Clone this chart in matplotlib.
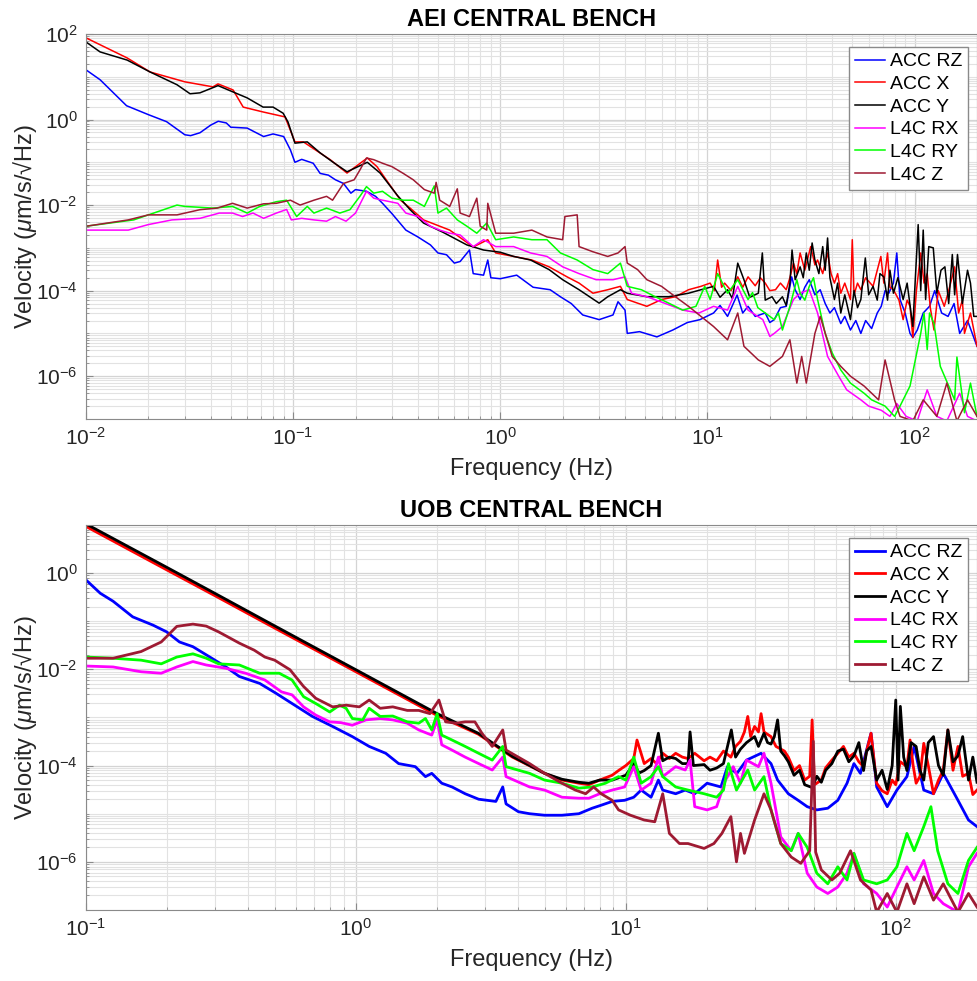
import matplotlib
matplotlib.use("Agg")
import matplotlib.pyplot as plt
from matplotlib.ticker import LogLocator, NullFormatter

plt.rcParams['font.family'] = ['Liberation Sans', 'DejaVu Sans']
plt.rcParams['mathtext.fontset'] = 'custom'
plt.rcParams['mathtext.rm'] = 'Liberation Sans'
plt.rcParams['mathtext.it'] = 'Liberation Sans:italic'

labels = ['ACC RZ', 'ACC X', 'ACC Y', 'L4C RX', 'L4C RY', 'L4C Z']
colors = ['#0000ff', '#ff0000', '#000000', '#ff00ff', '#00ff00', '#9e1a32']

# ---------------- AEI central bench (top) ----------------
aei_rz_f = [0.01, 0.0117, 0.0157, 0.02, 0.0245, 0.03, 0.032, 0.0355, 0.04, 0.0435, 0.0476, 0.05, 0.06,
            0.072, 0.08, 0.09, 0.097, 0.102, 0.11, 0.125, 0.135, 0.148, 0.16, 0.175, 0.19, 0.2, 0.226,
            0.25, 0.27, 0.3, 0.35, 0.4, 0.46, 0.5, 0.55, 0.6, 0.64, 0.71, 0.74, 0.83, 0.87, 0.9, 1.0,
            1.2, 1.44, 1.74, 1.95, 2.2, 2.5, 3.0, 3.5, 3.7, 4.0, 4.1, 4.7, 5.7, 6.8, 8.0, 9.2,
            10.7, 11.5, 12.5, 13.9, 14.8, 15.7, 17, 19, 20, 21, 22.5, 24, 25.5, 26.5, 28, 29.5, 31,
            33, 35, 37, 39, 41, 44, 46, 49, 52, 55, 58, 62, 66, 69, 72, 75, 79, 82, 85, 90, 95, 98,
            103, 110, 118, 125, 135, 145, 155, 165, 180, 200]
aei_rz_v = [14.5, 8.5, 2.1, 1.3, 0.89, 0.44, 0.42, 0.49, 0.74, 0.91, 0.83, 0.66, 0.63,
            0.40, 0.46, 0.40, 0.195, 0.10, 0.117, 0.095, 0.055, 0.05, 0.039, 0.032, 0.019, 0.023, 0.021,
            0.016, 0.011, 6.3e-3, 2.6e-3, 1.8e-3, 1.17e-3, 7.6e-4, 6.9e-4, 4.4e-4, 4.8e-4, 8.9e-4, 2.5e-4,
            2.3e-4, 5.2e-4, 2.0e-4, 1.9e-4,
            2.3e-4, 1.2e-4, 1.05e-4, 7.2e-5, 5e-5, 2.7e-5, 2.1e-5, 2.7e-5, 5.5e-5, 3.5e-5, 1.0e-5, 1.1e-5,
            8.3e-6, 1.2e-5, 1.8e-5, 2.1e-5,
            3.0e-5, 4.5e-5, 2.5e-5, 7.9e-5, 3e-5, 4.3e-5, 2.5e-5, 3e-5, 1.8e-5, 2.1e-5, 4e-5,
            4.3e-5, 2.1e-4, 1.05e-4, 6.2e-5, 1.2e-4, 1.8e-4,
            8e-5, 1.05e-4, 5e-5, 3e-5, 4e-5, 1.7e-5, 2.5e-5, 1.2e-5, 2e-5, 1e-5, 2e-5, 1.3e-5, 3e-5,
            4.3e-5, 1e-4, 8.7e-5, 1.5e-4, 7.6e-4, 6.2e-5, 3e-5, 1e-5, 8e-6,
            1.2e-5, 3e-5, 4.3e-5, 1e-4, 3e-5, 2.5e-5, 5e-5, 1e-5, 2e-5, 5e-6]

aei_x_f = [0.01, 0.0158, 0.0204, 0.03, 0.041, 0.0434, 0.0513, 0.0574, 0.0716, 0.0914, 0.102, 0.112,
           0.151, 0.182, 0.228, 0.254, 0.33, 0.367, 0.426, 0.57, 0.74, 0.87, 0.95, 1.16, 1.42, 1.72,
           2.1, 2.4, 2.8, 3.3, 3.8, 4.1, 4.6, 5.1, 6.0, 7.0, 8.1, 9.3,
           10.3, 10.8, 11.2, 11.7, 12.1, 13, 14, 14.8, 15.7, 17, 18, 19, 20, 21.3, 22.5, 24, 25, 26,
           27, 28, 29.5, 31.5, 33, 34, 36, 38, 39.5, 41, 42.5, 44, 46, 49, 50, 51, 53, 55, 58, 63,
           66, 68.7, 71, 74, 76, 79, 84, 88, 92, 95, 98, 102, 107, 111, 115, 119, 124, 130, 139,
           146, 156, 163, 170, 174, 186, 200]
aei_x_v = [81, 27.5, 12.9, 7.6, 5.8, 6.8, 4.9, 1.95, 1.5, 1.15, 0.30, 0.30,
           0.115, 0.056, 0.126, 0.079, 0.013, 8.5e-3, 4.5e-3, 2.6e-3, 1.05e-3, 1.55e-3, 7.6e-4, 6.3e-4,
           5.2e-4, 3.6e-4,
           2.1e-4, 1.5e-4, 8.7e-5, 1.05e-4, 1.26e-4, 6.2e-5, 5.1e-5, 4.3e-5, 6.2e-5, 7.2e-5, 1.05e-4,
           1.26e-4,
           1.5e-4, 1e-4, 5.2e-4, 1.2e-4, 1.5e-4, 1e-4, 2.1e-4, 1.2e-4, 2.1e-4, 1.3e-4, 2e-4, 1.5e-4,
           1e-4, 1.05e-4, 1.5e-4, 1.05e-4, 2e-4, 4.4e-4,
           2.5e-4, 7.6e-4, 3e-4, 1.07e-3, 4e-4, 5.2e-4, 2.5e-4, 7.6e-4, 2.5e-4, 1.5e-4, 2.5e-4, 8.7e-5,
           1.5e-4, 6.2e-5, 1.55e-3, 8e-5, 1.5e-4, 1.05e-4, 2e-4, 1.26e-4,
           3e-4, 6.3e-4, 1.5e-4, 7.6e-4, 1.2e-4, 1.05e-4, 6e-5, 2.1e-5, 6e-5, 4.3e-5, 8e-6, 1e-4,
           7.6e-4, 1.5e-4, 2.5e-4, 4e-5, 1.2e-5, 1e-4, 4.3e-5,
           1e-4, 3.6e-4, 3e-5, 6e-5, 1e-5, 3e-5, 5e-6]

aei_y_f = [0.01, 0.0117, 0.0158, 0.0204, 0.0275, 0.0318, 0.0355, 0.0434, 0.0513, 0.06, 0.0716, 0.08,
           0.0895, 0.0945, 0.102, 0.117, 0.135, 0.156, 0.182, 0.228, 0.263, 0.318, 0.367, 0.426, 0.53,
           0.69, 0.83, 1.0, 1.16, 1.4, 1.72, 2.0, 2.4, 3.0, 3.3, 3.8, 4.1, 5.1, 6.5, 8.1, 9.3,
           10.7, 11.5, 12.5, 13.2, 14, 15, 16, 17.6, 18.4, 19, 20.5, 21.5, 23, 24, 25, 25.6, 26.5,
           28, 29, 30, 31, 32, 33, 34.5, 36, 37, 38, 39, 41, 42.5, 44, 46, 49, 51, 53, 55, 57.8, 60,
           63, 66, 68, 71, 74, 76, 79, 83, 88, 92, 98, 104, 107, 110, 113, 117, 123, 128, 134, 140,
           146, 152, 156, 161, 170, 180, 186, 193, 200]
aei_y_v = [65, 38, 24.5, 12.9, 6.5, 4.0, 4.2, 6.2, 4.4, 3.2, 1.95, 1.95,
           1.4, 0.87, 0.28, 0.30, 0.166, 0.10, 0.06, 0.10, 0.056, 0.017, 7.8e-3, 3.8e-3, 2.3e-3,
           1.17e-3, 8.9e-4, 7.9e-4, 6.3e-4, 5.2e-4, 3.1e-4, 1.8e-4, 1.05e-4, 5.1e-5, 7.2e-5, 1.05e-4,
           8.7e-5, 7.2e-5, 7.2e-5, 8.7e-5, 1.05e-4,
           1.26e-4, 7e-5, 1.05e-4, 6.5e-5, 4.4e-4, 1.8e-4, 7e-5, 8.7e-5, 7.6e-4, 6e-5, 7.2e-5, 5e-5,
           7.2e-5, 4.5e-5, 1.5e-4, 8.9e-4, 1.8e-4,
           3.6e-4, 2e-4, 7.6e-4, 3e-4, 1.3e-3, 5.2e-4, 2.5e-4, 1.07e-3, 3e-4, 1.7e-3, 2e-4, 6.2e-5,
           1.5e-4, 3e-5, 8e-5, 2.1e-5, 1e-4, 4e-5, 6.2e-5, 5.8e-4, 8e-5,
           1.26e-4, 6e-5, 2.5e-4, 2.1e-4, 6e-5, 3e-4, 8.7e-5, 2e-4, 6.2e-5, 1.5e-4, 1.45e-5, 3.5e-3,
           1e-4, 2.6e-3, 6.2e-5, 1.07e-3, 1e-3, 8.7e-5, 3e-4, 3.6e-4,
           5e-5, 7e-4, 8e-5, 7e-4, 5e-5, 3e-4, 1.5e-4, 2.5e-5, 2.5e-5]

aei_rx_f = [0.01, 0.016, 0.02, 0.026, 0.0355, 0.044, 0.051, 0.057, 0.064, 0.072, 0.083, 0.093, 0.098,
            0.11, 0.126, 0.145, 0.16, 0.18, 0.2, 0.226, 0.245, 0.27, 0.32, 0.35, 0.4, 0.46, 0.51, 0.57,
            0.64, 0.74, 0.83, 0.95, 1.16, 1.4, 1.68, 2.0, 2.4, 2.9, 3.5, 4.0, 4.3, 5.1, 6.2, 7.6, 9.1,
            10.7, 12.5, 14, 15.7, 18.5, 20, 21, 23, 26, 28, 31, 34, 38, 43, 47, 55, 60, 69, 76, 82, 91,
            103, 115, 128, 143, 165, 180, 200]
aei_rx_v = [2.6e-3, 2.6e-3, 3.5e-3, 4.5e-3, 4.9e-3, 6.5e-3, 6.5e-3, 5.4e-3, 6.5e-3, 4.9e-3, 6.5e-3,
            7.9e-3, 4.5e-3,
            4.9e-3, 4.5e-3, 4.2e-3, 5.4e-3, 4.2e-3, 6.5e-3, 0.021, 0.0145, 0.013, 0.011, 6.5e-3, 5.4e-3,
            3.2e-3, 2.6e-3, 2.2e-3,
            2.0e-3, 1.07e-3, 1.55e-3, 1.07e-3, 1.07e-3, 7.6e-4, 6.3e-4, 3.6e-4, 2.5e-4, 1.8e-4, 1.8e-4,
            2.1e-4, 8.7e-5, 7.2e-5, 5.1e-5, 3.5e-5, 3e-5,
            4.3e-5, 3.5e-5, 1.26e-4, 3.5e-5, 2.1e-5, 8.5e-6, 1e-5, 1.45e-5, 6.2e-5, 8.7e-5, 1.05e-4,
            3e-5, 2.9e-6, 1e-6, 4.8e-7, 2.8e-7, 2e-7, 1.6e-7, 1.15e-7, 2.3e-7, 1.15e-7,
            9e-8, 4.8e-7, 1.15e-7, 9e-8, 4e-7, 1.15e-7, 9e-8]

aei_ry_f = [0.01, 0.017, 0.0275, 0.03, 0.041, 0.051, 0.06, 0.069, 0.083, 0.093, 0.104, 0.117, 0.126,
            0.145, 0.168, 0.188, 0.21, 0.226, 0.245, 0.27, 0.3, 0.34, 0.38, 0.43, 0.48, 0.5, 0.55, 0.62,
            0.69, 0.77, 0.86, 0.95, 1.16, 1.42, 1.68, 1.95, 2.35, 2.8, 3.3, 3.8, 4.1, 4.8, 5.6, 6.5,
            7.6, 8.8, 9.7, 10.3, 11.2, 12.5, 14, 15.7, 16.5, 17.5, 19, 21, 22, 23, 25, 27, 28, 29.5,
            31, 32.5, 34, 37, 40, 44, 49, 57, 62, 72, 80, 85, 95, 107, 111, 115, 118, 124, 133, 156,
            160, 174, 186, 200]
aei_ry_v = [3.2e-3, 4.5e-3, 0.01, 9.3e-3, 8.5e-3, 9.3e-3, 6.5e-3, 9.3e-3, 0.012, 0.013, 5.4e-3,
            9.3e-3, 6.5e-3,
            8.5e-3, 6.5e-3, 7.8e-3, 0.016, 0.027, 0.019, 0.021, 0.0145, 0.013, 0.013, 9.3e-3, 0.028,
            6.5e-3, 8.5e-3, 4.5e-3,
            3.2e-3, 2.2e-3, 3.8e-3, 1.55e-3, 1.8e-3, 1.55e-3, 1.55e-3, 7.6e-4, 5.2e-4, 3.1e-4, 2.5e-4,
            4.4e-4, 1.26e-4, 1.05e-4, 7.2e-5, 5.1e-5,
            3.5e-5, 4.3e-5, 1.26e-4, 6.2e-5, 2.5e-4, 8.7e-5, 1.8e-4, 6.2e-5, 9e-5, 4e-5, 3e-5, 2.1e-5,
            3e-5, 1.2e-5, 4.3e-5, 1.8e-4, 8.7e-5, 6e-5,
            1.26e-4, 2e-4, 6.2e-5, 1e-5, 3.5e-6, 1.4e-6, 6.9e-7, 4e-7, 2.8e-7, 2e-7, 1.15e-7, 2e-7,
            5.9e-7, 1e-5, 3e-5, 4.2e-6, 3e-5, 1.7e-5, 1.7e-6, 2.8e-7,
            2.8e-6, 1.4e-7, 6.9e-7, 1.15e-7]

aei_z_f = [0.01, 0.016, 0.02, 0.0275, 0.0355, 0.043, 0.051, 0.06, 0.072, 0.083, 0.097, 0.108, 0.126,
           0.145, 0.155, 0.175, 0.197, 0.21, 0.226, 0.245, 0.27, 0.3, 0.34, 0.38, 0.43, 0.48, 0.49,
           0.51, 0.57, 0.62, 0.64, 0.71, 0.77, 0.8, 0.86, 0.87, 0.95, 1.16, 1.42, 1.68, 2.0, 2.05, 2.35,
           2.4, 2.8, 3.3, 3.7, 4.0, 4.1, 4.6, 5.1, 6.0, 7.0, 8.1, 9.3, 10.7, 12.5, 14, 15, 17.6, 20,
           23, 25, 27, 28.5, 30, 33, 35, 40, 44, 49, 57, 67, 72, 80, 85, 98, 110, 128, 143, 160, 180,
           200]
aei_z_v = [3.2e-3, 4.5e-3, 5.9e-3, 5.9e-3, 7.8e-3, 8.5e-3, 0.011, 8.5e-3, 0.0107, 0.011, 0.013,
           0.01, 0.013,
           0.016, 0.013, 0.032, 0.039, 0.066, 0.126, 0.115, 0.095, 0.079, 0.055, 0.039, 0.023, 0.019,
           0.034,
           0.013, 9.3e-3, 0.024, 6.5e-3, 5.4e-3, 0.0145, 3.2e-3, 2.6e-3, 0.011, 2.2e-3, 2.2e-3, 2.6e-3,
           1.8e-3, 1.55e-3, 5.4e-3, 5.9e-3,
           1.07e-3, 8.1e-4, 6.3e-4, 7.6e-4, 1.07e-3, 4.4e-4, 3.1e-4, 1.8e-4, 1.26e-4, 7.2e-5, 4.3e-5,
           2.5e-5, 1.45e-5, 7.1e-6, 3e-5, 5e-6, 2.4e-6, 1.7e-6,
           2.9e-6, 7.1e-6, 6.9e-7, 2.9e-6, 6.9e-7, 1e-5, 2.5e-5, 2.9e-6, 1.7e-6, 1e-6, 5.9e-7, 2.8e-7,
           2.4e-6, 2.8e-7, 1.15e-7, 9e-8, 2.8e-7, 1.15e-7, 6.9e-7, 9e-8, 2.8e-7,
           1.15e-7]

# ---------------- UOB central bench (bottom) ----------------
uob_rz_f = [0.1, 0.113, 0.126, 0.149, 0.177, 0.199, 0.222, 0.249, 0.279, 0.33, 0.37, 0.44, 0.505,
            0.58, 0.69, 0.82, 0.97, 1.12, 1.29, 1.44, 1.66, 1.81, 1.91, 2.08, 2.27, 2.54, 2.85, 3.3,
            3.5, 3.6, 4.0, 4.4, 5.0, 5.8, 6.7, 7.5, 8.1, 8.9, 9.9, 10.7, 11.4, 12.4, 13.2, 13.7, 15.3,
            16.6, 18, 20, 22.5, 23.8, 25.8, 28, 31.7, 34.5, 36.5, 40, 43.5, 47, 51, 56, 61, 66, 70,
            74, 81, 85, 93, 101, 110, 117, 127, 138, 150, 170, 186, 200]
uob_rz_v = [0.72, 0.38, 0.26, 0.123, 0.083, 0.06, 0.037, 0.0295, 0.02, 0.0112, 7.1e-3, 5.1e-3,
            3.2e-3,
            1.95e-3, 1.05e-3, 6.5e-4, 4e-4, 2.5e-4, 1.8e-4, 1.1e-4, 9.5e-5, 5.9e-5, 6.9e-5, 4.3e-5,
            3.6e-5, 2.6e-5, 2e-5, 1.8e-5,
            3.6e-5, 1.6e-5, 1.1e-5, 1e-5, 9.3e-6, 9.3e-6, 1e-5, 1.3e-5, 1.5e-5, 1.8e-5, 1.9e-5,
            2.2e-5, 3.1e-5, 2.2e-5, 5e-5, 3.1e-5, 2.6e-5,
            3.1e-5, 2.6e-5, 4.3e-5, 3.6e-5, 9.5e-5, 6.9e-5, 1.3e-4, 1.8e-4, 1.1e-4, 5e-5, 2.6e-5,
            1.9e-5, 1.4e-5, 1.2e-5, 1.3e-5, 1.9e-5, 4.3e-5, 1.1e-4,
            6.9e-5, 4.7e-4, 3.6e-5, 1.4e-5, 3.1e-5, 5.9e-5, 2.5e-4, 3.1e-5, 2.6e-5, 6.9e-5, 1.9e-5,
            7.4e-6, 5.4e-6]

uob_x_f = [0.1, 0.2, 0.3, 0.5, 1.0, 2.0, 2.84, 3.8, 5.0, 5.8, 6.7, 7.3, 8.0, 8.9, 9.4,
           10.0, 10.7, 11.0, 11.7, 12.4, 13, 13.7, 14.5, 15.3, 16.2, 17, 18, 19.5, 20.5, 21.7, 23,
           24.5, 25.5, 26.6, 27.5, 28.3, 29, 30, 31, 31.7, 32.5, 34.5, 36, 38.7, 40, 42, 44, 46, 48,
           49, 50, 53, 55, 58, 61, 64, 67, 70, 73, 76, 78, 81, 85, 89, 93, 97, 100, 104, 110, 113,
           116, 119, 123, 127, 132, 138, 144, 150, 156, 163, 170, 177, 186, 193, 200]
uob_x_v = [9.3, 1.15, 0.34, 0.072, 8.9e-3, 1.1e-3, 4.5e-4, 1.5e-4, 6.9e-5, 5e-5, 4.3e-5, 4e-5,
           5e-5, 6.3e-5, 7.9e-5,
           1e-4, 1.4e-4, 3.4e-4, 1.1e-4, 1.4e-4, 1.1e-4, 1.8e-4, 1.4e-4, 1.8e-4, 1.5e-4, 1.4e-4,
           1.8e-4, 1.26e-4, 1.5e-4, 1.26e-4, 2e-4,
           1.5e-4, 2.5e-4, 3.2e-4, 5e-4, 1.05e-3, 4e-4, 6.5e-4, 5e-4, 1.2e-3, 5e-4, 4e-4, 2.5e-4, 2e-4,
           1.5e-4, 7.9e-5, 1e-4, 5e-5, 6e-5,
           8.9e-4, 4e-5, 5e-5, 9e-5, 1.3e-4, 1.8e-4, 2.5e-4, 1.5e-4, 1.8e-4, 1.2e-4, 9.5e-5, 2e-4,
           4.7e-4, 4.3e-5, 3e-5, 2.6e-5, 5e-5, 4e-5, 1.2e-4, 9.5e-5, 3.4e-4,
           1e-4, 4.3e-5, 6e-5, 2.9e-4, 1e-4, 2.6e-5, 5e-5, 8e-5, 5.5e-4, 8e-5, 2.5e-4, 6e-5, 6.9e-5,
           2.5e-5, 3.1e-5]

uob_y_f = [0.1, 0.2, 0.3, 0.5, 1.0, 2.0, 2.84, 3.8, 5.0, 5.8, 6.7, 7.3, 8.0, 8.9,
           10.0, 10.7, 11.2, 11.7, 12.4, 13.2, 13.7, 14.5, 15.3, 16.2, 17, 17.3, 17.8, 19.5, 20.5,
           21.7, 23, 24.6, 25.5, 26.6, 28, 30, 31, 32.5, 33.5, 34.5, 35.5, 36.5, 37.5, 38.7, 40, 42,
           44, 46, 49, 51, 53, 55, 58, 61, 64, 67, 70, 73, 76, 78, 81, 85, 89, 93, 97, 100, 102, 104,
           107, 110, 114, 119, 123, 127, 132, 138, 144, 150, 156, 163, 170, 177, 186, 193, 200]
uob_y_v = [10.5, 1.3, 0.38, 0.08, 9.8e-3, 1.2e-3, 4.7e-4, 1.55e-4, 6.9e-5, 5.2e-5, 4.5e-5, 4.3e-5,
           5e-5, 5e-5,
           6.3e-5, 1.1e-4, 7e-5, 7.9e-5, 1e-4, 4.7e-4, 1.26e-4, 1.5e-4, 1.4e-4, 1.1e-4, 1.1e-4, 5e-4,
           1e-4, 1.05e-4, 8e-5,
           8.9e-5, 1.1e-4, 5.5e-4, 1.5e-4, 2.2e-4, 3e-4, 4e-4, 2.5e-4, 4.7e-4, 3e-4, 2.8e-4, 4e-4,
           8.9e-4, 2e-4, 1.6e-4, 1.2e-4, 6.3e-5,
           8e-5, 4e-5, 3.5e-5, 6e-5, 4.5e-5, 8e-5, 1.1e-4, 2e-4, 2.2e-4, 1.2e-4, 1.6e-4, 3e-4, 7.9e-5,
           2e-4, 2.5e-4, 5e-5, 8e-5, 3.2e-5, 1e-4, 2.3e-3, 5e-5, 1.7e-3,
           1.5e-4, 7.9e-5, 3e-4, 2.5e-4, 8e-5, 5e-5, 3e-4, 4e-4, 1e-4, 6.3e-5, 5.5e-4, 1.2e-4, 1.6e-4,
           4e-4, 5e-5, 1.5e-4, 4.5e-5]

uob_rx_f = [0.1, 0.126, 0.16, 0.19, 0.217, 0.249, 0.279, 0.33, 0.39, 0.46, 0.53, 0.58, 0.64, 0.71,
            0.8, 0.88, 0.97, 1.09, 1.23, 1.37, 1.55, 1.71, 1.91, 2.0, 2.08, 2.27, 2.54, 2.85, 3.2, 3.5,
            3.6, 4.4, 5.0, 5.8, 6.7, 7.3, 8.0, 8.9, 9.9, 10.7, 11.4, 12.4, 13.2, 13.7, 15.3, 16.6,
            17.3, 18, 20, 21.7, 23.4, 25, 26.6, 28, 31, 32.5, 34.5, 37.5, 41, 43.5, 47, 51, 56, 61,
            66, 70, 76, 85, 93, 101, 110, 117, 127, 138, 150, 170, 186, 200]
uob_rx_v = [0.0117, 0.0112, 8.9e-3, 8.3e-3, 0.0112, 0.0145, 0.0123, 0.0105, 8.3e-3, 6e-3, 3.4e-3,
            2.95e-3, 1.66e-3, 1.12e-3,
            8.1e-4, 7.8e-4, 6.9e-4, 8.9e-4, 9.5e-4, 8.9e-4, 7.6e-4, 5.5e-4, 4.3e-4, 8.9e-4, 2.7e-4,
            2.1e-4, 1.5e-4, 1.1e-4, 8.1e-5, 1.5e-4,
            5.9e-5, 3.6e-5, 3.1e-5, 2.2e-5, 2.1e-5, 2.1e-5, 2.6e-5, 3.1e-5, 3.6e-5, 9.5e-5, 3.1e-5,
            4.3e-5, 1.5e-4, 5.9e-5, 9.5e-5, 8.1e-5,
            1.3e-4, 1.4e-5, 1.2e-5, 1.4e-5, 5e-5, 9.5e-5, 4.3e-5, 1.3e-4, 9.5e-5, 1.8e-4, 4.3e-5,
            3.3e-6, 1.7e-6, 3.9e-6, 5.8e-7, 3e-7, 2.2e-7, 3e-7,
            5.8e-7, 1.5e-6, 3.5e-7, 2.2e-7, 1.15e-7, 3e-7, 7.9e-7, 4.2e-7, 1.07e-6, 2.2e-7, 1.35e-7,
            9e-8, 7.9e-7, 1.5e-6]

uob_ry_f = [0.1, 0.126, 0.16, 0.19, 0.217, 0.249, 0.279, 0.31, 0.37, 0.44, 0.52, 0.58, 0.64, 0.71,
            0.8, 0.87, 0.92, 0.97, 1.06, 1.12, 1.23, 1.37, 1.55, 1.71, 1.81, 1.91, 2.0, 2.08, 2.27,
            2.54, 2.85, 3.2, 3.5, 3.6, 4.4, 5.0, 5.8, 6.7, 7.5, 8.4, 9.4, 10, 10.7, 11.4, 12.4, 13.2,
            13.7, 15.3, 17, 19.5, 21.7, 23, 24, 25.7, 28.3, 30, 32.5, 34.5, 37.5, 41, 43.5, 47, 51,
            56, 61, 66, 70, 76, 85, 93, 101, 110, 117, 127, 135, 143, 156, 170, 186, 200]
uob_ry_v = [0.018, 0.017, 0.0155, 0.013, 0.018, 0.021, 0.017, 0.013, 0.0123, 8.3e-3, 8.3e-3, 6e-3,
            2.7e-3, 1.95e-3,
            1.3e-3, 1.8e-3, 1.55e-3, 9.5e-4, 8.9e-4, 1.55e-3, 1.05e-3, 1.07e-3, 8.1e-4, 7.6e-4,
            9.5e-4, 5.5e-4, 1.2e-3, 4.3e-4, 3.4e-4,
            2.5e-4, 1.8e-4, 1.3e-4, 2.5e-4, 9.5e-5, 6.9e-5, 5e-5, 4.3e-5, 3.4e-5, 3.6e-5, 4.3e-5,
            5.9e-5, 5e-5, 1.5e-4, 4.3e-5, 5.9e-5, 9.5e-5,
            5.9e-5, 3.6e-5, 3.1e-5, 2.6e-5, 2.2e-5, 3.1e-5, 1.1e-4, 3.1e-5, 8.1e-5, 3.1e-5, 5.9e-5,
            1.2e-5, 2.4e-6, 1.7e-6, 3.9e-6, 2e-6, 5.8e-7,
            3.5e-7, 7.9e-7, 4.2e-7, 1.5e-6, 4.2e-7, 3.5e-7, 4.2e-7, 7.9e-7, 3.9e-6, 1.7e-6, 5.4e-6,
            1.4e-5, 1.7e-6, 3.5e-7, 2.2e-7, 1.07e-6, 2e-6]

uob_z_f = [0.1, 0.126, 0.16, 0.19, 0.217, 0.249, 0.279, 0.31, 0.37, 0.42, 0.46, 0.5, 0.57, 0.64,
           0.71, 0.82, 0.92, 1.03, 1.12, 1.23, 1.37, 1.55, 1.71, 1.88, 2.03, 2.15, 2.35, 2.54, 2.76,
           2.93, 3.2, 3.5, 3.6, 4.4, 5.0, 5.8, 6.5, 7.1, 7.6, 8.1, 8.9, 9.4, 10.4, 11.7, 12.8, 13.7,
           14.5, 15.8, 17, 19.5, 21.2, 22.7, 24.5, 25.7, 26.6, 27.5, 30, 32.5, 34.5, 37.5, 41, 44.5,
           48, 49.5, 50.5, 53, 58, 62, 68, 74, 81, 85, 93, 101, 110, 117, 127, 138, 150, 170, 186,
           200]
uob_z_v = [0.017, 0.017, 0.0234, 0.037, 0.078, 0.087, 0.079, 0.06, 0.035, 0.025, 0.018, 0.0155,
           9.8e-3, 4.4e-3,
           2.5e-3, 1.66e-3, 1.8e-3, 1.66e-3, 2.3e-3, 1.55e-3, 1.66e-3, 1.4e-3, 1.4e-3, 1.2e-3,
           2.3e-3, 8.1e-4, 7.6e-4, 8.1e-4, 8.1e-4,
           4.7e-4, 2.5e-4, 5.5e-4, 2.1e-4, 1.1e-4, 6.9e-5, 4.3e-5, 3.1e-5, 2.6e-5, 3.6e-5, 2.6e-5,
           1.9e-5, 1.2e-5, 9.3e-6, 7.4e-6, 6.8e-6, 2.6e-5,
           3.9e-6, 2.4e-6, 2.4e-6, 1.9e-6, 2.4e-6, 3.9e-6, 8.7e-6, 1e-6, 3.9e-6, 1.5e-6, 7.4e-6,
           2.6e-5, 1.2e-5, 2.4e-6, 1.26e-6, 9.3e-7,
           1.7e-6, 3.2e-4, 1.6e-6, 6.8e-7, 4.2e-7, 5.8e-7, 1.7e-6, 4.2e-7, 2.6e-7, 9e-8, 2.2e-7,
           9e-8, 3.5e-7, 1.35e-7, 4.9e-7, 1.6e-7, 3.5e-7, 9e-8, 2.2e-7,
           1.15e-7]

aei_data = [(aei_rz_f, aei_rz_v), (aei_x_f, aei_x_v), (aei_y_f, aei_y_v),
            (aei_rx_f, aei_rx_v), (aei_ry_f, aei_ry_v), (aei_z_f, aei_z_v)]
uob_data = [(uob_rz_f, uob_rz_v), (uob_x_f, uob_x_v), (uob_y_f, uob_y_v),
            (uob_rx_f, uob_rx_v), (uob_ry_f, uob_ry_v), (uob_z_f, uob_z_v)]


def style_axes(ax, title, xlim, ylim, yticks):
    ax.set_xscale('log')
    ax.set_yscale('log')
    ax.set_xlim(*xlim)
    ax.set_ylim(*ylim)
    ax.set_yticks(yticks)
    ax.yaxis.set_minor_locator(LogLocator(base=10, subs='all', numticks=50))
    ax.yaxis.set_minor_formatter(NullFormatter())
    ax.xaxis.set_minor_locator(LogLocator(base=10, subs='all', numticks=50))
    ax.xaxis.set_minor_formatter(NullFormatter())
    ax.grid(True, which='major', color='#d4d4d4', lw=0.9)
    ax.grid(True, which='minor', color='#e2e2e2', lw=0.8)
    ax.set_axisbelow(True)
    for s in ax.spines.values():
        s.set_color('#8a8a8a')
    ax.tick_params(which='both', direction='in', colors='#8a8a8a', labelcolor='#262626',
                   labelsize=15)
    ax.tick_params(which='major', length=5, pad=6)
    ax.tick_params(which='minor', length=2.5)
    ax.set_title(title, fontsize=17, fontweight='bold', pad=6)
    ax.set_xlabel('Frequency (Hz)', fontsize=17, color='#262626', labelpad=6)
    ax.set_ylabel('Velocity ($\\mu$m/s/\u221aHz)', fontsize=17, color='#262626', labelpad=-2.5)


fig = plt.figure(figsize=(9.77, 9.81), dpi=100)
ax1 = fig.add_axes([0.088, 0.5729, 0.912, 0.3925])
ax2 = fig.add_axes([0.088, 0.0724, 0.912, 0.3925])

for (f, v), lab, c in zip(aei_data, labels, colors):
    ax1.plot(f, v, color=c, lw=1.1, label=lab)
for (f, v), lab, c in zip(uob_data, labels, colors):
    ax2.plot(f, v, color=c, lw=2.0, label=lab)

style_axes(ax1, 'AEI CENTRAL BENCH', (1e-2, 200), (1e-7, 1e2), [1e-6, 1e-4, 1e-2, 1e0, 1e2])
style_axes(ax2, 'UOB CENTRAL BENCH', (1e-1, 200), (1e-7, 1e1), [1e-6, 1e-4, 1e-2, 1e0])

for ax in (ax1, ax2):
    leg = ax.legend(loc='upper right', bbox_to_anchor=(0.99, 0.966), borderaxespad=0,
                    fontsize=14, fancybox=False, framealpha=1, edgecolor='#8a8a8a',
                    handlelength=1.55, handletextpad=0.25, labelspacing=0.26, borderpad=0.3)
    leg.get_frame().set_linewidth(1.0)

fig.savefig('out.png', dpi=100)
